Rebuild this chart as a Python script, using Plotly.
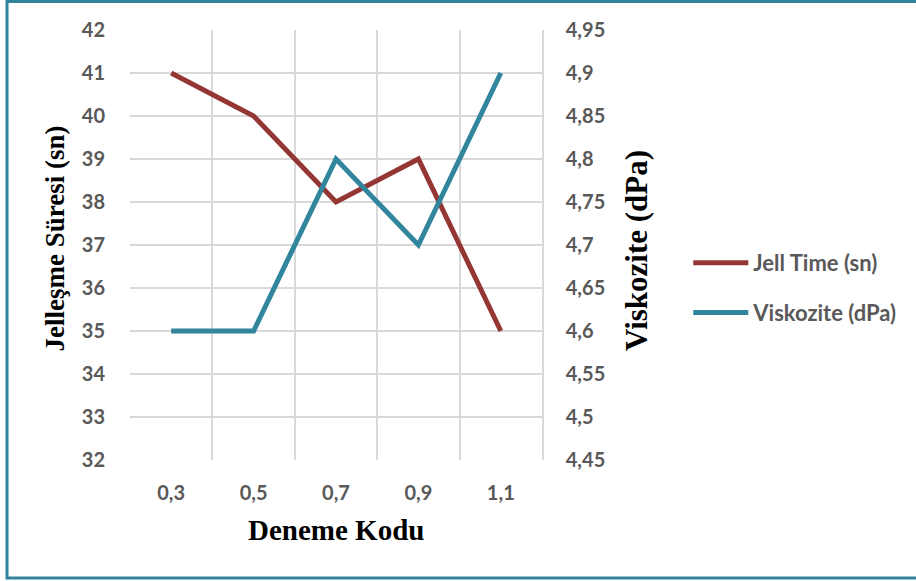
import plotly.graph_objects as go

# Deneme kodları (x kategorileri)
categories = ["0,3", "0,5", "0,7", "0,9", "1,1"]
# Jelleşme süresi (sn)
jell_time = [41, 40, 38, 39, 35]
# Viskozite (dPa)
viskozite = [4.6, 4.6, 4.8, 4.7, 4.9]

left_ticks = [32, 33, 34, 35, 36, 37, 38, 39, 40, 41, 42]
right_tickvals = [4.45, 4.5, 4.55, 4.6, 4.65, 4.7, 4.75, 4.8, 4.85, 4.9, 4.95]
right_ticktext = ["4,45", "4,5", "4,55", "4,6", "4,65", "4,7", "4,75", "4,8", "4,85", "4,9", "4,95"]

RED = "#943634"
TEAL = "#31859C"
TICK_FONT = dict(family="Lato", size=20, color="#595959", weight=700)
TITLE_FONT = dict(family="Liberation Serif", color="#000000", weight=700)

fig = go.Figure()
fig.add_trace(go.Scatter(
    x=categories, y=jell_time, name="Jell Time (sn)", mode="lines",
    line=dict(color=RED, width=5), legendgroup="a", yaxis="y",
))
fig.add_trace(go.Scatter(
    x=categories, y=viskozite, name="Viskozite (dPa)", mode="lines",
    line=dict(color=TEAL, width=5), legendgroup="b", yaxis="y2",
))

fig.update_layout(
    width=916, height=581,
    margin=dict(l=130, r=374, t=30, b=121),
    paper_bgcolor="white", plot_bgcolor="white",
    showlegend=True,
    legend=dict(
        x=1.355, y=0.40, xanchor="left", yanchor="middle",
        font=dict(family="Lato", size=22, color="#595959", weight=700),
        traceorder="grouped", tracegroupgap=18, itemwidth=55,
        bgcolor="rgba(0,0,0,0)",
    ),
    xaxis=dict(
        type="category", tickson="boundaries", range=[-0.5, 4.5],
        showgrid=True, gridcolor="#d9d9d9", gridwidth=1.5,
        showline=False, zeroline=False, ticks="",
        tickfont=TICK_FONT, ticklabelstandoff=19,
    ),
    yaxis=dict(
        range=[32, 42], tickvals=left_ticks,
        showgrid=True, gridcolor="#d9d9d9", gridwidth=1.5,
        zeroline=False, showline=False, ticks="",
        tickfont=TICK_FONT, ticklabelstandoff=24,
    ),
    yaxis2=dict(
        range=[4.45, 4.95], overlaying="y", side="right",
        tickvals=right_tickvals, ticktext=right_ticktext,
        showgrid=False, zeroline=False, showline=True, linecolor="#d9d9d9",
        linewidth=1.5, ticks="",
        tickfont=TICK_FONT, ticklabelstandoff=18,
    ),
    annotations=[
        dict(text="Deneme Kodu", xref="paper", yref="paper",
             x=0.5, y=-0.163, xanchor="center", yanchor="middle",
             showarrow=False, font=dict(TITLE_FONT, size=29)),
        dict(text="Jelleşme Süresi (sn)", xref="paper", yref="paper",
             x=-0.182, y=0.515, xanchor="center", yanchor="middle",
             textangle=-90, showarrow=False, font=dict(TITLE_FONT, size=27)),
        dict(text="Viskozite (dPa)", xref="paper", yref="paper",
             x=1.228, y=0.488, xanchor="center", yanchor="middle",
             textangle=-90, showarrow=False, font=dict(TITLE_FONT, size=31)),
    ],
    shapes=[
        dict(type="rect", xref="paper", yref="paper",
             x0=-0.2985, x1=1.92, y0=-0.2744, y1=1.066,
             line=dict(color="#31849B", width=3), layer="below"),
    ],
)

fig.write_html("out.html")
